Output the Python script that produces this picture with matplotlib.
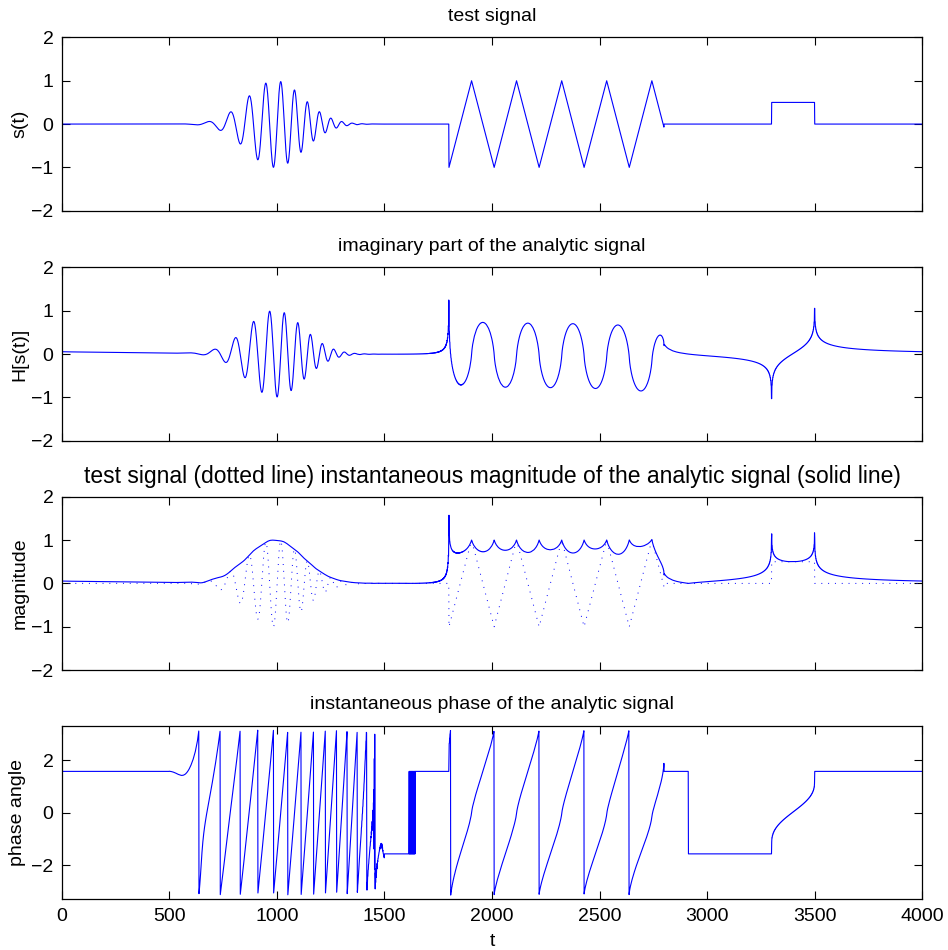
import numpy as np
import matplotlib
matplotlib.use("Agg")
import matplotlib.pyplot as plt

plt.rcParams['font.family'] = ['Liberation Sans', 'DejaVu Sans']
plt.rcParams['font.size'] = 14

# signal length (samples)
n_samples = 4000

# gaussian wave packet (linear chirp)
packet_center = 992
packet_sigma = 130
packet_span = [500, 1500]
chirp_f0 = 0.0145      # cycles / sample at the packet center
chirp_rate = 1.85e-5   # change of frequency per sample
chirp_phase0 = 3.867

# triangle wave vertices
tri_t = [1800, 1905, 2010, 2114, 2219, 2324, 2428, 2533, 2638, 2743, 2799]
tri_v = [-1, 1, -1, 1, -1, 1, -1, 1, -1, 1, -0.07]

# rectangular pulse
pulse_t = [3300, 3500]
pulse_level = 0.5

t = np.arange(n_samples)
s = np.zeros(n_samples)

tau = t - packet_center
packet = np.exp(-tau**2 / (2 * packet_sigma**2)) * np.cos(
    2 * np.pi * (chirp_f0 * tau + 0.5 * chirp_rate * tau**2) + chirp_phase0)
m = (t >= packet_span[0]) & (t < packet_span[1])
s[m] = packet[m]

m = (t >= tri_t[0]) & (t <= tri_t[-1])
s[m] = np.interp(t[m], tri_t, tri_v)

m = (t >= pulse_t[0]) & (t < pulse_t[1])
s[m] = pulse_level

# analytic signal the way matlab's hilbert() does it
X = np.fft.fft(s)
h = np.zeros(n_samples)
h[0] = 1
h[1:n_samples // 2] = 2
h[n_samples // 2] = 1
z = np.fft.ifft(X * h)

fig = plt.figure(figsize=(9.48, 9.5), dpi=100)
left, width, height = 0.0651, 0.9078, 0.1824
bottoms = [0.7782, 0.5361, 0.2947, 0.0534]
axs = [fig.add_axes([left, b, width, height]) for b in bottoms]

lw = 0.8
axs[0].plot(t, s, color='b', lw=lw)
axs[0].set_ylabel('s(t)', labelpad=2)
axs[0].set_title('test signal', fontsize=14, pad=12)

axs[1].plot(t, z.imag, color='b', lw=lw)
axs[1].set_ylabel('H[s(t)]', labelpad=2)
axs[1].set_title('imaginary part of the analytic signal', fontsize=14, pad=12)

axs[2].plot(t, s, color='b', lw=0.7, linestyle=(0, (1, 6)))
axs[2].plot(t, np.abs(z), color='b', lw=lw)
axs[2].set_ylabel('magnitude', labelpad=2)
axs[2].set_title('test signal (dotted line) instantaneous magnitude of the analytic signal (solid line)',
                 fontsize=16.5, pad=10)

axs[3].plot(t, np.angle(z), color='b', lw=lw)
axs[3].set_ylabel('phase angle', labelpad=4)
axs[3].set_title('instantaneous phase of the analytic signal', fontsize=14, pad=12)
axs[3].set_xlabel('t', labelpad=6)

for i, ax in enumerate(axs):
    ax.set_xlim(0, n_samples)
    ax.set_xticks(np.arange(0, 4001, 500))
    if i < 3:
        ax.set_ylim(-2, 2)
        ax.set_yticks([-2, -1, 0, 1, 2])
        ax.tick_params(labelbottom=False)
    else:
        ax.set_ylim(-3.3, 3.3)
        ax.set_yticks([-2, 0, 2])
    ax.tick_params(direction='in', top=True, right=True, length=6, width=0.8, pad=6)
    for sp in ax.spines.values():
        sp.set_linewidth(0.9)

plt.savefig('out.png', dpi=100)
